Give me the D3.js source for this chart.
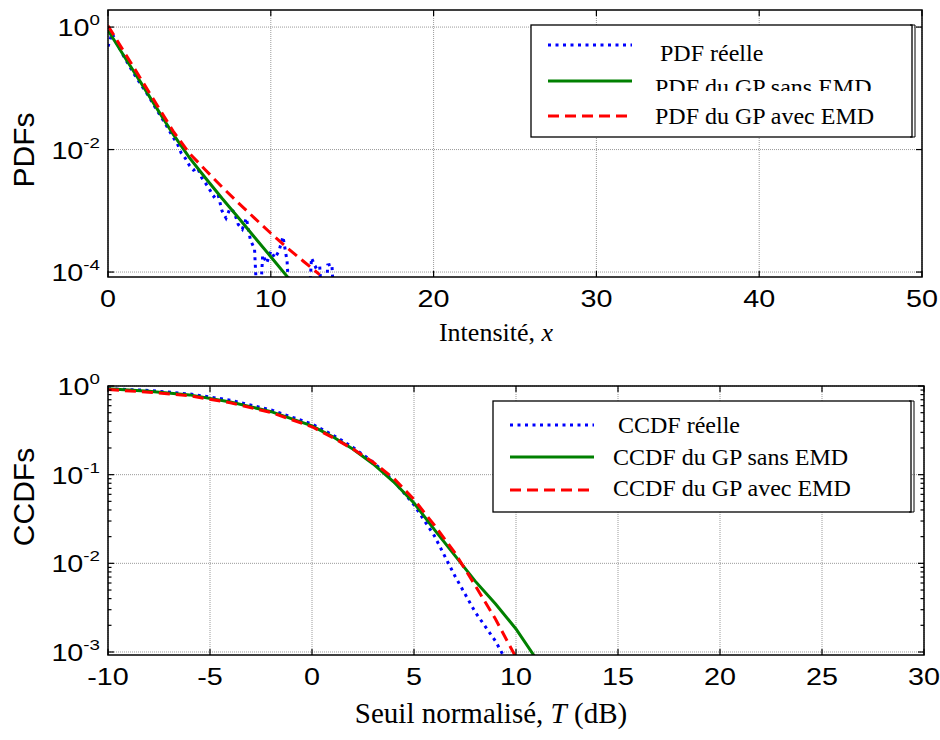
<!DOCTYPE html>
<html>
<head>
<meta charset="utf-8">
<script src="https://cdn.jsdelivr.net/npm/d3@7"></script>
<style>
  body { margin: 0; background: #fff; }
  svg { display: block; }
  .sans { font-family: "Liberation Sans", Arial, sans-serif; }
  .serif { font-family: "Liberation Serif", "Times New Roman", serif; }
</style>
</head>
<body>
<div id="chart"></div>
<script>
// ---- Données du panneau du haut : PDF en fonction de l'intensité x ----
const intensiteModele = [0, 1, 2, 3, 4, 5, 6, 7, 8, 9, 10, 11, 12, 13];
const pdfSansEmd = [0.89, 0.33, 0.126, 0.047, 0.0178, 0.0074, 0.0034, 0.0016, 7.8e-4, 3.7e-4, 1.78e-4, 8.5e-5, 4.0e-5, 2.0e-5];
const pdfAvecEmd = [1.05, 0.39, 0.145, 0.054, 0.020, 0.0087, 0.0046, 0.00245, 0.00135, 7.6e-4, 4.3e-4, 2.5e-4, 1.5e-4, 9.1e-5];

// histogramme empirique (bins vides -> 1e-5, sous l'axe)
const intensiteReelle = [0, 0.25, 0.5, 1, 1.5, 2, 2.5, 3, 3.5, 4, 4.25, 4.5, 4.75, 5, 5.25, 5.5, 5.75, 6, 6.25, 6.5, 6.75,
  7, 7.25, 7.5, 7.75, 8, 8.25, 8.5, 8.75, 9, 9.25, 9.5, 9.75, 10, 10.25, 10.5, 10.75, 11, 11.25, 11.5, 11.75, 12, 12.25,
  12.5, 12.75, 13, 13.25, 13.5, 13.75, 14];
const pdfReelle = [0.48, 0.79, 0.58, 0.32, 0.19, 0.117, 0.074, 0.044, 0.027, 0.0158, 0.0126, 0.0087, 0.0072, 0.0055, 0.0046,
  0.0050, 0.0035, 0.0028, 0.0022, 0.0017, 0.0019, 0.0010, 7.6e-4, 0.0011, 9.5e-4, 6.0e-4, 5.0e-4, 7.6e-4, 3.3e-4, 2.4e-4,
  1e-5, 1.9e-4, 1.4e-4, 2.2e-4, 1.7e-4, 2.2e-4, 3.8e-4, 1.5e-4, 1e-5, 1e-5, 1e-5, 1e-5, 1e-5,
  1.7e-4, 1.2e-4, 1.3e-4, 1e-5, 1.3e-4, 1.35e-4, 1e-5];

const pdfTicksX = [0, 10, 20, 30, 40, 50];
const pdfTicksY = [1, 1e-2, 1e-4];

// ---- Données du panneau du bas : CCDF en fonction du seuil T (dB) ----
const seuilDb = [-10, -8, -6, -4, -2, 0, 1, 2, 3, 4, 5, 6, 7, 8, 9, 10, 11];
const ccdfReelle = [0.933, 0.891, 0.813, 0.692, 0.537, 0.372, 0.282, 0.204, 0.138, 0.0851, 0.0457, 0.0204, 0.00724, 0.00282, 0.00132, 5.0e-4, 1.6e-4];
const ccdfSansEmd = [0.933, 0.871, 0.794, 0.661, 0.513, 0.355, 0.269, 0.195, 0.132, 0.0832, 0.0479, 0.024, 0.0123, 0.0063, 0.00347, 0.00182, 8.3e-4];
const ccdfAvecEmd = [0.912, 0.851, 0.776, 0.646, 0.501, 0.347, 0.263, 0.195, 0.138, 0.0912, 0.0525, 0.0269, 0.0132, 0.00562, 0.00234, 8.7e-4, 3.2e-4];

const ccdfTicksX = [-10, -5, 0, 5, 10, 15, 20, 25, 30];
const ccdfTicksY = [1, 1e-1, 1e-2, 1e-3];

// styles des trois courbes (MATLAB : b:, g-, r--)
const styles = [
  { color: "#0000ff", dash: "3,4.5" },
  { color: "#008000", dash: null },
  { color: "#ff0000", dash: "11,6" }
];

const width = 940;
const height = 740;
const stretch = 1.25; // les étiquettes de graduation sont un peu élargies dans l'original

const svg = d3.select("#chart")
  .append("svg")
  .attr("width", width)
  .attr("height", height);

function exponent(v) {
  return String(Math.round(Math.log10(v)));
}

function drawPanel(p) {
  const x = d3.scaleLinear().domain(p.xDomain).range([p.left, p.right]);
  const y = d3.scaleLog().domain(p.yDomain).range([p.bottom, p.top]);
  const g = svg.append("g");

  g.append("clipPath").attr("id", p.id)
    .append("rect")
    .attr("x", p.left).attr("y", p.top)
    .attr("width", p.right - p.left).attr("height", p.bottom - p.top);

  // grille pointillée
  g.selectAll(".gx").data(p.ticksX).enter().append("line")
    .attr("x1", d => x(d)).attr("x2", d => x(d))
    .attr("y1", p.top).attr("y2", p.bottom)
    .attr("stroke", "#9a9a9a").attr("stroke-width", 1).attr("stroke-dasharray", "1,1");
  g.selectAll(".gy").data(p.ticksY).enter().append("line")
    .attr("x1", p.left).attr("x2", p.right)
    .attr("y1", d => y(d)).attr("y2", d => y(d))
    .attr("stroke", "#9a9a9a").attr("stroke-width", 1).attr("stroke-dasharray", "1,1");

  // courbes
  const plot = g.append("g").attr("clip-path", `url(#${p.id})`);
  p.series.forEach((s, i) => {
    const pts = s.x.map((xv, k) => [xv, s.y[k]]);
    plot.append("path")
      .datum(pts)
      .attr("fill", "none")
      .attr("stroke", styles[i].color)
      .attr("stroke-width", 3)
      .attr("stroke-dasharray", styles[i].dash)
      .attr("d", d3.line().x(d => x(d[0])).y(d => y(d[1])));
  });

  // cadre
  g.append("rect")
    .attr("x", p.left).attr("y", p.top)
    .attr("width", p.right - p.left).attr("height", p.bottom - p.top)
    .attr("fill", "none").attr("stroke", "#000").attr("stroke-width", 1.5);

  // graduations vers l'intérieur, sur les quatre côtés
  const major = 6, minor = 3.5;
  p.ticksX.forEach(t => {
    g.append("line").attr("x1", x(t)).attr("x2", x(t)).attr("y1", p.bottom).attr("y2", p.bottom - major)
      .attr("stroke", "#000").attr("stroke-width", 1.2);
    g.append("line").attr("x1", x(t)).attr("x2", x(t)).attr("y1", p.top).attr("y2", p.top + major)
      .attr("stroke", "#000").attr("stroke-width", 1.2);
  });
  const yTicks = p.minor ? y.ticks() : p.ticksY;
  yTicks.forEach(t => {
    const isMajor = p.ticksY.some(m => Math.abs(Math.log10(m) - Math.log10(t)) < 1e-6);
    const len = isMajor ? major : minor;
    [[p.left, len], [p.right, -len]].forEach(([x0, l]) => {
      g.append("line").attr("x1", x0).attr("x2", x0 + l).attr("y1", y(t)).attr("y2", y(t))
        .attr("stroke", "#000").attr("stroke-width", 1.2);
    });
  });

  // étiquettes de l'axe x
  g.selectAll(".lx").data(p.ticksX).enter().append("text")
    .attr("class", "sans")
    .attr("transform", d => `translate(${x(d)},${p.bottom + 30}) scale(${stretch},1)`)
    .attr("text-anchor", "middle")
    .attr("font-size", "23px")
    .text(d => d);

  // étiquettes de l'axe y : 10^n
  p.ticksY.forEach(t => {
    const txt = g.append("text")
      .attr("class", "sans")
      .attr("transform", `translate(${p.left - 8},${y(t) + 9}) scale(${stretch},1)`)
      .attr("text-anchor", "end")
      .attr("font-size", "23px");
    txt.append("tspan").text("10");
    txt.append("tspan").attr("dy", -11).attr("font-size", "15px").text(exponent(t));
  });

  // titre de l'axe y
  g.append("text")
    .attr("class", "sans")
    .attr("transform", `translate(34,${p.yLabelY}) rotate(-90)`)
    .attr("text-anchor", "middle")
    .attr("font-size", "30px")
    .text(p.yLabel);

  // titre de l'axe x
  const xl = g.append("text")
    .attr("class", "serif")
    .attr("x", p.xLabelX)
    .attr("y", p.xLabelY)
    .attr("text-anchor", "middle")
    .attr("font-size", p.xLabelSize);
  p.xLabel.forEach(part => {
    xl.append("tspan").attr("font-style", part.italic ? "italic" : null).text(part.t);
  });

  // légende
  const L = p.legend;
  const lg = g.append("g");
  lg.append("rect")
    .attr("x", L.x0).attr("y", L.y0)
    .attr("width", L.x1 - L.x0).attr("height", L.y1 - L.y0)
    .attr("fill", "#fff").attr("stroke", "#000").attr("stroke-width", 1.3);
  // petit crochet à droite du cadre de la légende
  lg.append("path")
    .attr("d", `M${L.x1 - 2},${L.y0} H${L.x1 + 3} V${L.y1} H${L.x1 - 2}`)
    .attr("fill", "none").attr("stroke", "#000").attr("stroke-width", 1);
  lg.append("clipPath").attr("id", p.id + "-leg")
    .append("rect")
    .attr("x", L.x0).attr("y", L.rows[1] - 30)
    .attr("width", L.x1 - L.x0).attr("height", 30 + L.cut);
  L.labels.forEach((lab, i) => {
    const ly = L.rows[i];
    lg.append("line")
      .attr("x1", L.sx0).attr("x2", L.sx1)
      .attr("y1", ly).attr("y2", ly)
      .attr("stroke", styles[i].color)
      .attr("stroke-width", 3)
      .attr("stroke-dasharray", styles[i].dash);
    lg.append("text")
      .attr("class", "serif")
      .attr("x", L.tx[i])
      .attr("y", ly + L.dy[i])
      .attr("font-size", "24px")
      .attr("clip-path", i === 1 ? `url(#${p.id}-leg)` : null)
      .text(lab);
  });
}

drawPanel({
  id: "clipPdf",
  left: 108, right: 922, top: 10, bottom: 277,
  xDomain: [0, 50], yDomain: [8.3e-5, 1.9],
  ticksX: pdfTicksX, ticksY: pdfTicksY, minor: false,
  series: [
    { x: intensiteReelle, y: pdfReelle },
    { x: intensiteModele, y: pdfSansEmd },
    { x: intensiteModele, y: pdfAvecEmd }
  ],
  yLabel: "PDFs", yLabelY: 150,
  xLabel: [{ t: "Intensité, " }, { t: "x", italic: true }],
  xLabelX: 496, xLabelY: 341, xLabelSize: "26px",
  legend: {
    x0: 531, x1: 912, y0: 25, y1: 137,
    sx0: 548, sx1: 632,
    rows: [45, 81, 116],
    tx: [660, 655, 655],
    dy: [16, 14, 8],
    cut: 10,
    labels: ["PDF réelle", "PDF du GP sans EMD", "PDF du GP avec EMD"]
  }
});

drawPanel({
  id: "clipCcdf",
  left: 108, right: 924, top: 386, bottom: 655,
  xDomain: [-10, 30], yDomain: [9.25e-4, 1],
  ticksX: ccdfTicksX, ticksY: ccdfTicksY, minor: true,
  series: [
    { x: seuilDb, y: ccdfReelle },
    { x: seuilDb, y: ccdfSansEmd },
    { x: seuilDb, y: ccdfAvecEmd }
  ],
  yLabel: "CCDFs", yLabelY: 497,
  xLabel: [{ t: "Seuil normalisé, " }, { t: "T", italic: true }, { t: " (dB)" }],
  xLabelX: 491, xLabelY: 723, xLabelSize: "29px",
  legend: {
    x0: 493, x1: 911, y0: 401, y1: 512,
    sx0: 510, sx1: 594,
    rows: [425, 457, 490],
    tx: [618, 613, 613],
    dy: [8, 8, 6],
    cut: 8,
    labels: ["CCDF réelle", "CCDF du GP sans EMD", "CCDF du GP avec EMD"]
  }
});
</script>
</body>
</html>
